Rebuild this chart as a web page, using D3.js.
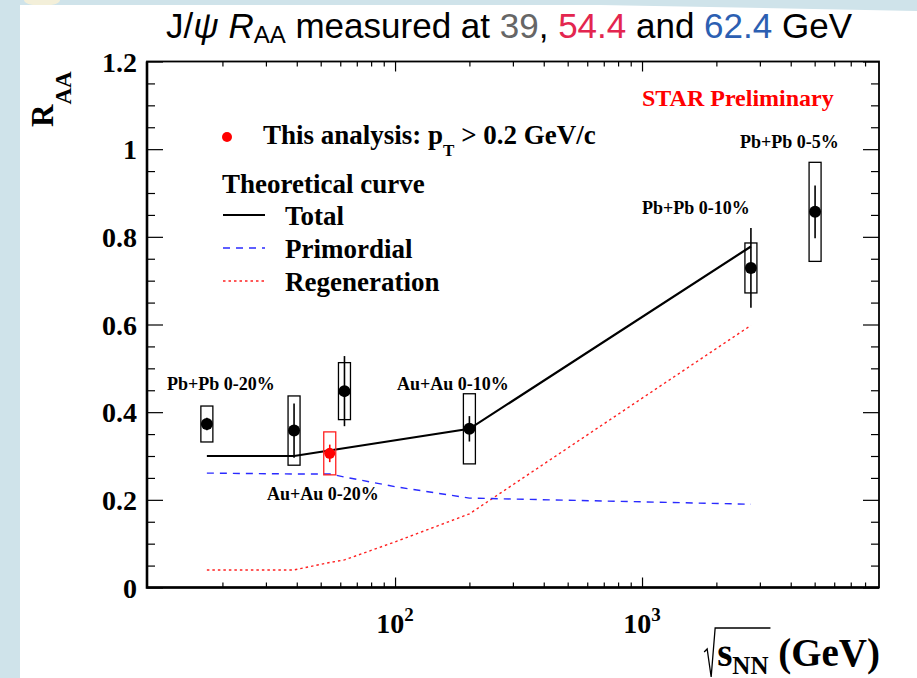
<!DOCTYPE html>
<html>
<head>
<meta charset="utf-8">
<script src="https://cdn.jsdelivr.net/npm/d3@7"></script>
<style>
    html, body { margin: 0; padding: 0; background: #cfe3ea; }
    svg { display: block; }
</style>
</head>
<body>
<div id="chart-div"></div>
<script>
// J/psi R_AA vs collision energy, measured points plus transport-model curves.

// MEASURED POINTS /////////////////////////////////////////////////////////////
const energies = [17.3, 39, 54.4, 62.4, 200, 2760, 5020];
const raa      = [0.373, 0.358, 0.306, 0.448, 0.362, 0.729, 0.857];
const statErr  = [0.014, 0.062, 0.020, 0.080, 0.029, 0.091, 0.060];
const sysErr   = [0.041, 0.079, 0.049, 0.065, 0.080, 0.057, 0.113];
const isThisAnalysis = [false, false, true, false, false, false, false];

// THEORY CURVES ///////////////////////////////////////////////////////////////
const totalE = [17.3, 39, 200, 2760];
const totalR = [0.300, 0.300, 0.362, 0.778];
const primE  = [17.3, 39, 54.4, 62.4, 100, 200, 2760];
const primR  = [0.261, 0.259, 0.259, 0.252, 0.230, 0.204, 0.190];
const regenE = [17.3, 39, 54.4, 62.4, 100, 200, 2760];
const regenR = [0.040, 0.040, 0.057, 0.063, 0.104, 0.168, 0.598];
const curveNames = ["Total", "Primordial", "Regeneration"];

// AXES ////////////////////////////////////////////////////////////////////////
const yMajor = [0, 0.2, 0.4, 0.6, 0.8, 1, 1.2];
const yMinor = [0.05, 0.1, 0.15, 0.25, 0.3, 0.35, 0.45, 0.5, 0.55, 0.65, 0.7, 0.75,
                0.85, 0.9, 0.95, 1.05, 1.1, 1.15];
const xMajor = [100, 1000];
const xMajorLabels = [["10", "2"], ["10", "3"]];
const xMinor = [20, 30, 40, 50, 60, 70, 80, 90, 200, 300, 400, 500, 600, 700, 800, 900,
                2000, 3000, 4000, 5000, 6000, 7000, 8000];

const systemLabels = ["Pb+Pb 0-20%", "Au+Au 0-20%", "Au+Au 0-10%", "Pb+Pb 0-10%", "Pb+Pb 0-5%"];

(function() {
    const W = 917, H = 678;
    const m = {left: 147, top: 61.5, right: 38, bottom: 90.5};
    const w = W - m.left - m.right;
    const h = H - m.top - m.bottom;
    const serif = "'Liberation Serif', 'Times New Roman', serif";
    const sans = "'Liberation Sans', Arial, sans-serif";

    const svg = d3.select("#chart-div").append("svg")
        .attr("width", W)
        .attr("height", H);

    // page backdrop: pale blue edge with the white sheet on top
    svg.append("rect").attr("width", W).attr("height", H).attr("fill", "#cfe3ea");
    svg.append("ellipse").attr("cx", 42).attr("cy", 0).attr("rx", 18).attr("ry", 6)
        .attr("fill", "#f3efd9");
    svg.append("path")
        .attr("d", `M20,5 L600,5 L${W},11 L${W},${H} L20,${H} Z`)
        .attr("fill", "#ffffff");

    // TITLE ///////////////////////////////////////////////////////////////////
    const title = svg.append("text")
        .attr("x", 509).attr("y", 38)
        .attr("text-anchor", "middle")
        .attr("font-family", sans)
        .attr("font-size", 35)
        .attr("fill", "#000");
    title.append("tspan").text("J/");
    title.append("tspan").attr("font-style", "italic").text("\u03c8 ");
    title.append("tspan").attr("font-style", "italic").text("R");
    title.append("tspan").attr("font-size", 24).attr("dy", 5).text("AA");
    title.append("tspan").attr("dy", -5).text(" measured at ");
    title.append("tspan").attr("fill", "#666666").text("39");
    title.append("tspan").text(", ");
    title.append("tspan").attr("fill", "#e3264f").text("54.4");
    title.append("tspan").text(" and ");
    title.append("tspan").attr("fill", "#2c5fb2").text("62.4");
    title.append("tspan").text(" GeV");

    const g = svg.append("g").attr("transform", `translate(${m.left},${m.top})`);

    const x = d3.scaleLog().domain([9.9, 9110]).range([0, w]);
    const y = d3.scaleLinear().domain([0, 1.2]).range([h, 0]);

    // TICKS ///////////////////////////////////////////////////////////////////
    function ticks(axis, values, size, tx, ty) {
        const a = g.append("g")
            .attr("transform", `translate(${tx},${ty})`)
            .call(axis.tickValues(values).tickSize(-size).tickFormat(""));
        a.select(".domain").remove();
        a.selectAll("line").attr("stroke", "#000").attr("stroke-width", 1.2);
        return a;
    }
    ticks(d3.axisBottom(x), xMajor, 10, 0, h);
    ticks(d3.axisBottom(x), xMinor, 5, 0, h);
    ticks(d3.axisTop(x), xMajor, 10, 0, 0);
    ticks(d3.axisTop(x), xMinor, 5, 0, 0);
    ticks(d3.axisRight(y), yMajor, 16, w, 0);
    ticks(d3.axisRight(y), yMinor, 8, w, 0);
    ticks(d3.axisLeft(y), yMinor, 8, 0, 0);

    const yAxis = g.append("g")
        .call(d3.axisLeft(y).tickValues(yMajor).tickSize(-16).tickPadding(10)
            .tickFormat(d3.format("~g")));
    yAxis.select(".domain").remove();
    yAxis.selectAll("line").attr("stroke", "#000").attr("stroke-width", 1.2);
    yAxis.selectAll("text")
        .attr("font-family", serif)
        .attr("font-weight", "bold")
        .attr("font-size", 28)
        .attr("dy", "0.35em")
        .attr("fill", "#000");

    // decade labels 10^2, 10^3
    xMajor.forEach(function(v, i) {
        const t = g.append("text")
            .attr("x", x(v)).attr("y", h + 45)
            .attr("text-anchor", "middle")
            .attr("font-family", serif)
            .attr("font-weight", "bold")
            .attr("font-size", 28);
        t.append("tspan").text(xMajorLabels[i][0]);
        t.append("tspan").attr("font-size", 19).attr("dy", -12).text(xMajorLabels[i][1]);
    });

    // frame: ROOT draws the left/bottom edges a bit heavier
    g.append("rect")
        .attr("width", w).attr("height", h)
        .attr("fill", "none")
        .attr("stroke", "#000")
        .attr("stroke-width", 1.8);
    g.append("path")
        .attr("d", `M0,0 V${h} H${w}`)
        .attr("fill", "none")
        .attr("stroke", "#000")
        .attr("stroke-width", 2.6);

    // AXIS TITLES /////////////////////////////////////////////////////////////
    const yTitle = svg.append("text")
        .attr("transform", "translate(53,127) rotate(-90)")
        .attr("font-family", serif)
        .attr("font-weight", "bold")
        .attr("font-size", 31);
    yTitle.append("tspan").text("R");
    yTitle.append("tspan").attr("font-size", 23).attr("dy", 18).text("AA");

    const xTitle = svg.append("text")
        .attr("x", 880).attr("y", 666)
        .attr("text-anchor", "end")
        .attr("font-family", serif)
        .attr("font-weight", "bold")
        .attr("font-size", 39);
    xTitle.append("tspan").text("s");
    xTitle.append("tspan").attr("font-size", 25).attr("dy", 8).text("NN");
    xTitle.append("tspan").attr("dy", -8).text(" (GeV)");
    // radical sign over s_NN
    const sx = xTitle.node().getStartPositionOfChar(0).x;
    const ex = xTitle.node().getEndPositionOfChar(2).x;
    svg.append("path")
        .attr("d", `M${sx - 13},652 L${sx - 10},649 L${sx - 6},677 L${sx - 2},628 L${ex + 2},628`)
        .attr("fill", "none")
        .attr("stroke", "#000")
        .attr("stroke-width", 1.3);

    // THEORY CURVES ///////////////////////////////////////////////////////////
    const line = d3.line().x(d => x(d[0])).y(d => y(d[1]));
    const curves = [
        {pts: d3.zip(totalE, totalR), color: "#000000", width: 2.2, dash: null},
        {pts: d3.zip(primE, primR), color: "#2a2aff", width: 1.4, dash: "7,6"},
        {pts: d3.zip(regenE, regenR), color: "#ff2020", width: 1.4, dash: "2.5,3"}
    ];
    // regeneration and primordial go under the total curve
    [2, 1, 0].forEach(function(i) {
        const c = curves[i];
        g.append("path")
            .attr("d", line(c.pts))
            .attr("fill", "none")
            .attr("stroke", c.color)
            .attr("stroke-width", c.width)
            .attr("stroke-dasharray", c.dash);
    });

    // MEASURED POINTS /////////////////////////////////////////////////////////
    const points = energies.map(function(e, i) {
        return {e: e, r: raa[i], stat: statErr[i], sys: sysErr[i], ours: isThisAnalysis[i]};
    });
    const boxW = 12;
    const pt = g.selectAll(".pt")
        .data(points)
        .enter().append("g")
        .attr("class", "pt");
    pt.append("rect")
        .attr("x", d => x(d.e) - boxW / 2)
        .attr("y", d => y(d.r + d.sys))
        .attr("width", boxW)
        .attr("height", d => y(d.r - d.sys) - y(d.r + d.sys))
        .attr("fill", "none")
        .attr("stroke", d => d.ours ? "#ff2020" : "#000")
        .attr("stroke-width", 1.3);
    pt.append("line")
        .attr("x1", d => x(d.e)).attr("x2", d => x(d.e))
        .attr("y1", d => y(d.r + d.stat))
        .attr("y2", d => y(d.r - d.stat))
        .attr("stroke", d => d.ours ? "#ff0000" : "#000")
        .attr("stroke-width", 1.6);
    pt.append("circle")
        .attr("cx", d => x(d.e))
        .attr("cy", d => y(d.r))
        .attr("r", d => d.ours ? 5.5 : 6)
        .attr("fill", d => d.ours ? "#ff0000" : "#000");

    // collision system annotations
    const labelPos = [[167, 390], [267, 500], [397, 390], [642, 214], [740, 148]];
    systemLabels.forEach(function(s, i) {
        svg.append("text")
            .attr("x", labelPos[i][0]).attr("y", labelPos[i][1])
            .attr("font-family", serif)
            .attr("font-weight", "bold")
            .attr("font-size", 18)
            .text(s);
    });

    svg.append("text")
        .attr("x", 642).attr("y", 106)
        .attr("font-family", serif)
        .attr("font-weight", "bold")
        .attr("font-size", 24)
        .attr("fill", "#ff0000")
        .text("STAR Preliminary");

    // LEGEND //////////////////////////////////////////////////////////////////
    const leg = svg.append("g")
        .attr("font-family", serif)
        .attr("font-weight", "bold")
        .attr("font-size", 27);
    leg.append("circle").attr("cx", 227).attr("cy", 137).attr("r", 5).attr("fill", "#ff0000");
    const la = leg.append("text").attr("x", 263).attr("y", 144);
    la.append("tspan").text("This analysis: p");
    la.append("tspan").attr("font-size", 17).attr("dy", 12).text("T");
    la.append("tspan").attr("dy", -12).text(" > 0.2 GeV/c");
    leg.append("text").attr("x", 222).attr("y", 193).text("Theoretical curve");
    curveNames.forEach(function(name, i) {
        const ly = 215 + i * 33;
        leg.append("line")
            .attr("x1", 223).attr("x2", 265)
            .attr("y1", ly).attr("y2", ly)
            .attr("stroke", curves[i].color)
            .attr("stroke-width", curves[i].width)
            .attr("stroke-dasharray", curves[i].dash);
        leg.append("text").attr("x", 285).attr("y", ly + 10).text(name);
    });
})();
</script>
</body>
</html>
